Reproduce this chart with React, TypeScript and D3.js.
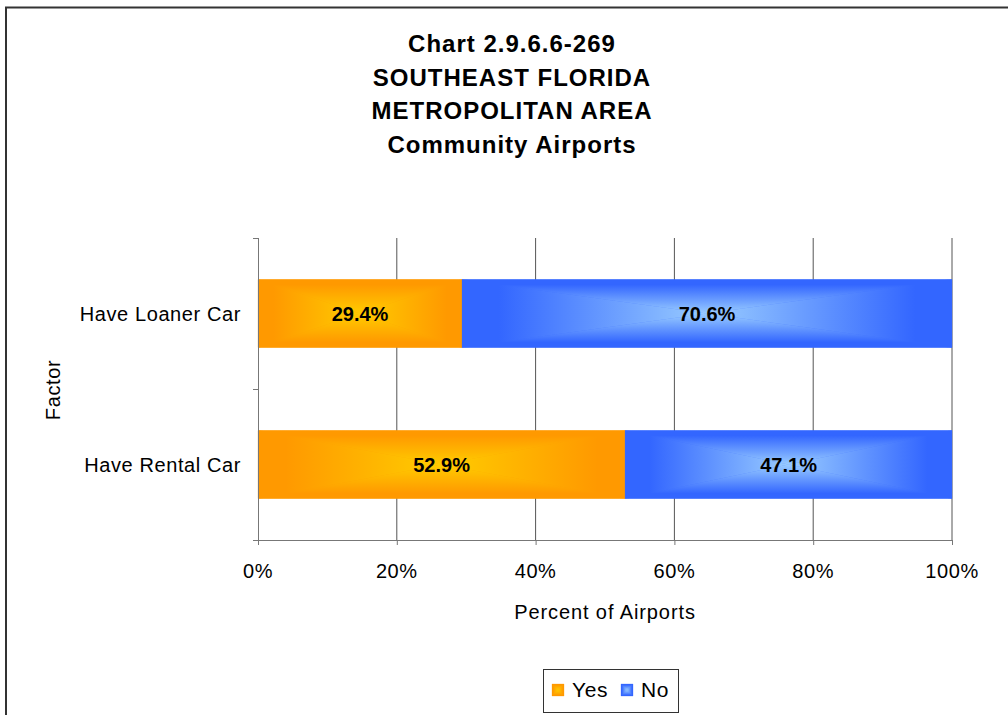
import * as d3 from "d3"

const titleLines = ["Chart 2.9.6.6-269", "SOUTHEAST FLORIDA", "METROPOLITAN AREA", "Community Airports"]
const categories = ["Have Loaner Car", "Have Rental Car"]
const seriesNames = ["Yes", "No"]
const yesValues = [29.4, 52.9]
const noValues = [70.6, 47.1]
const xTicks = [0, 20, 40, 60, 80, 100]

const palette: Record<string, { edge: string; center: string }> = {
  Yes: { edge: "#FF9900", center: "#FFCC00" },
  No: { edge: "#3366FF", center: "#99CCFF" },
}

const FONT = "Liberation Sans, Arial, sans-serif"

// rectangular "from center" gradient, built from four triangles
const CenterRect = ({ id, x, y, w, h, series }: { id: string; x: number; y: number; w: number; h: number; series: string }) => {
  const { edge, center } = palette[series]
  const cx = x + w / 2
  const cy = y + h / 2
  const x1 = x + w
  const y1 = y + h
  const g = (gid: string, ax: number, ay: number, bx: number, by: number) => (
    <linearGradient id={gid} gradientUnits="userSpaceOnUse" x1={ax} y1={ay} x2={bx} y2={by}>
      <stop offset="0" stopColor={edge} />
      <stop offset="0.15" stopColor={edge} />
      <stop offset="1" stopColor={center} />
    </linearGradient>
  )
  return (
    <g>
      <defs>
        {g(`${id}-t`, cx, y, cx, cy)}
        {g(`${id}-b`, cx, y1, cx, cy)}
        {g(`${id}-l`, x, cy, cx, cy)}
        {g(`${id}-r`, x1, cy, cx, cy)}
      </defs>
      <rect x={x} y={y} width={w} height={h} fill={edge} />
      <polygon points={`${x},${y} ${x1},${y} ${cx},${cy}`} fill={`url(#${id}-t)`} stroke={`url(#${id}-t)`} strokeWidth={0.3} />
      <polygon points={`${x},${y1} ${x1},${y1} ${cx},${cy}`} fill={`url(#${id}-b)`} stroke={`url(#${id}-b)`} strokeWidth={0.3} />
      <polygon points={`${x},${y} ${x},${y1} ${cx},${cy}`} fill={`url(#${id}-l)`} stroke={`url(#${id}-l)`} strokeWidth={0.3} />
      <polygon points={`${x1},${y} ${x1},${y1} ${cx},${cy}`} fill={`url(#${id}-r)`} stroke={`url(#${id}-r)`} strokeWidth={0.3} />
    </g>
  )
}

export default function App() {
  const width = 1008
  const height = 715
  const margin = { top: 238, right: 56, bottom: 175, left: 258 }

  const x = d3.scaleLinear().domain([0, 100]).range([margin.left, width - margin.right])
  const y = d3.scaleBand().domain(categories).range([margin.top, height - margin.bottom])
  const barH = y.bandwidth() * 0.45

  const stacked = categories.map((c, i) => {
    const vals = [yesValues[i], noValues[i]]
    let acc = 0
    return vals.map((v, j) => {
      const s = { cat: c, series: seriesNames[j], x0: acc, x1: acc + v, v }
      acc += v
      return s
    })
  })

  const x0 = margin.left
  const yTop = margin.top
  const yBot = height - margin.bottom

  return (
    <div style={{ position: "absolute", left: 0, top: 0 }}>
      <svg width={width} height={height} style={{ display: "block", fontFamily: FONT }}>
        <rect x={0} y={0} width={width} height={height} fill="#fff" />
        <rect x={6} y={7.5} width={width + 20} height={height + 20} fill="none" stroke="#333" strokeWidth={2} />

        {titleLines.map((t, i) => (
          <text key={t} x={512} y={52 + i * 33.7} textAnchor="middle" fontSize={24} fontWeight="bold" letterSpacing={1} fill="#000">
            {t}
          </text>
        ))}

        {/* gridlines */}
        {xTicks.slice(1).map((t) => (
          <line key={t} x1={x(t)} x2={x(t)} y1={yTop} y2={yBot} stroke="#555" strokeWidth={1} />
        ))}

        {/* bars */}
        {stacked.flat().map((s, k) => {
          const bx = x(s.x0)
          const bw = x(s.x1) - x(s.x0)
          const by = (y(s.cat) || 0) + (y.bandwidth() - barH) / 2
          return (
            <g key={k}>
              <CenterRect id={`bar${k}`} x={bx} y={by} w={bw} h={barH} series={s.series} />
              <text x={bx + bw / 2} y={by + barH / 2 + 7} textAnchor="middle" fontSize={20} fontWeight="bold" fill="#000">
                {`${s.v.toFixed(1)}%`}
              </text>
            </g>
          )
        })}

        {/* axes */}
        <line x1={x0 + 0.5} x2={x0 + 0.5} y1={yTop} y2={yBot + 5} stroke="#777" />
        {[yTop, yTop + y.step(), yBot].map((v, i) => (
          <line key={i} x1={x0 - 5} x2={x0} y1={v + 0.5} y2={v + 0.5} stroke="#777" />
        ))}
        <line x1={x0 - 5} x2={x(100)} y1={yBot + 0.5} y2={yBot + 0.5} stroke="#777" />
        {xTicks.map((t) => (
          <g key={t}>
            <line x1={x(t) + 0.5} x2={x(t) + 0.5} y1={yBot} y2={yBot + 5} stroke="#777" />
            <text x={x(t)} y={yBot + 38} textAnchor="middle" fontSize={20} letterSpacing={0.6} fill="#000">
              {`${t}%`}
            </text>
          </g>
        ))}

        {categories.map((c) => (
          <text key={c} x={241} y={(y(c) || 0) + y.bandwidth() / 2 + 7} textAnchor="end" fontSize={20} letterSpacing={0.6} fill="#000">
            {c}
          </text>
        ))}

        <text x={x(50)} y={619} textAnchor="middle" fontSize={20} letterSpacing={0.9} fill="#000">
          Percent of Airports
        </text>
        <text transform={`translate(60,390) rotate(-90)`} textAnchor="middle" fontSize={20} letterSpacing={0.6} fill="#000">
          Factor
        </text>

        {/* legend */}
        <rect x={543.5} y={669.5} width={135} height={43} fill="#fff" stroke="#333" strokeWidth={1} />
        {seriesNames.map((n, i) => {
          const lx = 552 + i * 69
          return (
            <g key={n}>
              <CenterRect id={`leg${i}`} x={lx} y={684} w={12} h={12} series={n} />
              <text x={lx + 20} y={697} fontSize={21} letterSpacing={0.6} fill="#000">
                {n}
              </text>
            </g>
          )
        })}
      </svg>
    </div>
  )
}
